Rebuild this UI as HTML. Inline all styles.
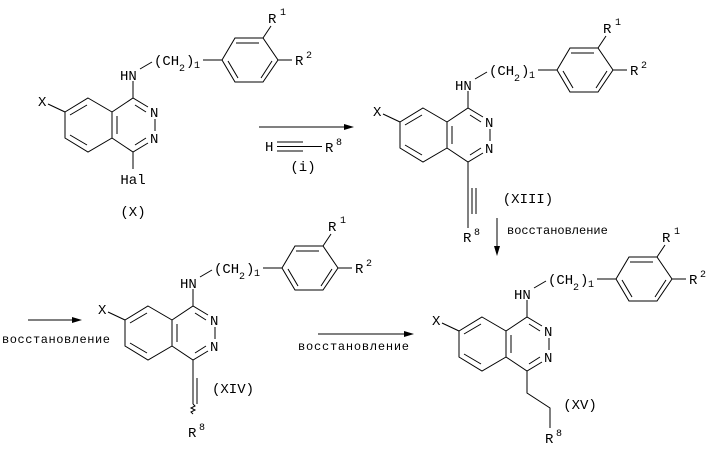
<!DOCTYPE html>
<html><head><meta charset="utf-8"><style>
html,body{margin:0;padding:0;background:#fff;}
svg{display:block;}
text{font-family:"Liberation Mono",monospace;font-size:14px;fill:#000;}
.s{font-size:10px;}
.r{font-size:12px;}
</style></head><body>
<svg width="709" height="451" viewBox="0 0 709 451" xmlns="http://www.w3.org/2000/svg">
<g stroke="#000" stroke-width="1" fill="none">
<!-- arrows -->
<line x1="259" y1="127" x2="348" y2="127"/>
<line x1="277" y1="142" x2="303" y2="142"/><line x1="277" y1="146.5" x2="303" y2="146.5"/><line x1="277" y1="151" x2="303" y2="151"/>
<line x1="303" y1="146.5" x2="322" y2="146.5"/>
<line x1="497" y1="218" x2="497" y2="250"/>
<line x1="28" y1="320" x2="76" y2="320"/>
<line x1="318" y1="334" x2="408" y2="334"/>
</g>
<g fill="#000">
<polygon points="354,127 344,124 344,130"/>
<polygon points="497,256 494,246 500,246"/>
<polygon points="82,320 72,317 72,323"/>
<polygon points="414,334 404,331 404,337"/>
</g>
<text x="265" y="151">H</text><text x="325" y="152">R</text><text class="s" x="336" y="145">8</text>
<text x="303" y="171" text-anchor="middle">(i)</text>
<text class="r" x="507" y="234">восстановление</text>
<text class="r" x="2" y="343" textLength="108">восстановление</text>
<text class="r" x="298" y="350" textLength="111">восстановление</text>
<text x="133" y="216" text-anchor="middle">(X)</text>
<text x="528" y="203" text-anchor="middle">(XIII)</text>
<text x="233" y="393" text-anchor="middle">(XIV)</text>
<text x="580" y="409" text-anchor="middle">(XV)</text>

<!-- molecule X -->
<g transform="translate(0,0)">
<g stroke="#000" stroke-width="1" fill="none">
<polygon points="88,98 112,112 112,138 88,152 65,138 65,112"/>
<line x1="70" y1="115" x2="87" y2="105"/><line x1="70" y1="135" x2="87" y2="145"/>
<polyline points="112,112 133,98 148,107"/><polyline points="148,143 133,152 112,138"/>
<line x1="135" y1="105" x2="146" y2="112"/><line x1="135" y1="145" x2="146" y2="138"/>
<line x1="117" y1="116" x2="117" y2="134"/>
<line x1="155" y1="119" x2="155" y2="131"/>
<line x1="48" y1="104" x2="65" y2="112"/>
<line x1="133" y1="98" x2="133" y2="81"/>
<line x1="140" y1="69" x2="152" y2="62"/>
<line x1="203" y1="60" x2="222" y2="60"/>
<polygon points="222,60 235,38 263,38 278,60 263,82 235,82"/>
<line x1="236" y1="43" x2="259" y2="43"/><line x1="272" y1="61" x2="261" y2="78"/><line x1="228" y1="61" x2="238" y2="78"/>
<line x1="263" y1="38" x2="271" y2="26"/>
<line x1="278" y1="60" x2="292" y2="60"/>
<line x1="133" y1="152" x2="133" y2="169"/>
</g>
<text x="38" y="106">X</text>
<text x="150" y="117">N</text><text x="150" y="143">N</text>
<text x="120" y="80">HN</text>
<text x="154" y="65">(CH</text><text class="s" x="179" y="71">2</text><text x="186" y="65">)</text><text class="s" x="194" y="68">1</text>
<text x="268" y="23">R</text><text class="s" x="280" y="15">1</text>
<text x="295" y="65">R</text><text class="s" x="306" y="58">2</text>
<text x="133" y="184" text-anchor="middle">Hal</text>
</g>

<!-- molecule XIII -->
<g transform="translate(335,10)">
<g stroke="#000" stroke-width="1" fill="none">
<polygon points="88,98 112,112 112,138 88,152 65,138 65,112"/>
<line x1="70" y1="115" x2="87" y2="105"/><line x1="70" y1="135" x2="87" y2="145"/>
<polyline points="112,112 133,98 148,107"/><polyline points="148,143 133,152 112,138"/>
<line x1="135" y1="105" x2="146" y2="112"/><line x1="135" y1="145" x2="146" y2="138"/>
<line x1="117" y1="116" x2="117" y2="134"/>
<line x1="155" y1="119" x2="155" y2="131"/>
<line x1="48" y1="104" x2="65" y2="112"/>
<line x1="133" y1="98" x2="133" y2="81"/>
<line x1="140" y1="69" x2="152" y2="62"/>
<line x1="203" y1="60" x2="222" y2="60"/>
<polygon points="222,60 235,38 263,38 278,60 263,82 235,82"/>
<line x1="236" y1="43" x2="259" y2="43"/><line x1="272" y1="61" x2="261" y2="78"/><line x1="228" y1="61" x2="238" y2="78"/>
<line x1="263" y1="38" x2="271" y2="26"/>
<line x1="278" y1="60" x2="292" y2="60"/>
<line x1="133" y1="152" x2="133" y2="218"/>
<line x1="137" y1="178" x2="137" y2="204"/><line x1="141" y1="178" x2="141" y2="204"/>
</g>
<text x="38" y="106">X</text>
<text x="150" y="117">N</text><text x="150" y="143">N</text>
<text x="120" y="80">HN</text>
<text x="154" y="65">(CH</text><text class="s" x="179" y="71">2</text><text x="186" y="65">)</text><text class="s" x="194" y="68">1</text>
<text x="268" y="23">R</text><text class="s" x="280" y="15">1</text>
<text x="295" y="65">R</text><text class="s" x="306" y="58">2</text>
<text x="128" y="232">R</text><text class="s" x="139" y="225">8</text>
</g>

<!-- molecule XIV -->
<g transform="translate(60,208)">
<g stroke="#000" stroke-width="1" fill="none">
<polygon points="88,98 112,112 112,138 88,152 65,138 65,112"/>
<line x1="70" y1="115" x2="87" y2="105"/><line x1="70" y1="135" x2="87" y2="145"/>
<polyline points="112,112 133,98 148,107"/><polyline points="148,143 133,152 112,138"/>
<line x1="135" y1="105" x2="146" y2="112"/><line x1="135" y1="145" x2="146" y2="138"/>
<line x1="117" y1="116" x2="117" y2="134"/>
<line x1="155" y1="119" x2="155" y2="131"/>
<line x1="48" y1="104" x2="65" y2="112"/>
<line x1="133" y1="98" x2="133" y2="81"/>
<line x1="140" y1="69" x2="152" y2="62"/>
<line x1="203" y1="60" x2="222" y2="60"/>
<polygon points="222,60 235,38 263,38 278,60 263,82 235,82"/>
<line x1="236" y1="43" x2="259" y2="43"/><line x1="272" y1="61" x2="261" y2="78"/><line x1="228" y1="61" x2="238" y2="78"/>
<line x1="263" y1="38" x2="271" y2="26"/>
<line x1="278" y1="60" x2="292" y2="60"/>
<line x1="133" y1="152" x2="133" y2="196"/>
<line x1="137" y1="170" x2="137" y2="196"/>
<path d="M133,196 l2,2 l-4,2 l4,2 l-4,2 l2,2"/>
</g>
<text x="38" y="106">X</text>
<text x="150" y="117">N</text><text x="150" y="143">N</text>
<text x="120" y="80">HN</text>
<text x="154" y="65">(CH</text><text class="s" x="179" y="71">2</text><text x="186" y="65">)</text><text class="s" x="194" y="68">1</text>
<text x="268" y="23">R</text><text class="s" x="280" y="15">1</text>
<text x="295" y="65">R</text><text class="s" x="306" y="58">2</text>
<text x="128" y="229">R</text><text class="s" x="139" y="222">8</text>
</g>

<!-- molecule XV -->
<g transform="translate(394,219)">
<g stroke="#000" stroke-width="1" fill="none">
<polygon points="88,98 112,112 112,138 88,152 65,138 65,112"/>
<line x1="70" y1="115" x2="87" y2="105"/><line x1="70" y1="135" x2="87" y2="145"/>
<polyline points="112,112 133,98 148,107"/><polyline points="148,143 133,152 112,138"/>
<line x1="135" y1="105" x2="146" y2="112"/><line x1="135" y1="145" x2="146" y2="138"/>
<line x1="117" y1="116" x2="117" y2="134"/>
<line x1="155" y1="119" x2="155" y2="131"/>
<line x1="48" y1="104" x2="65" y2="112"/>
<line x1="133" y1="98" x2="133" y2="81"/>
<line x1="140" y1="69" x2="152" y2="62"/>
<line x1="203" y1="60" x2="222" y2="60"/>
<polygon points="222,60 235,38 263,38 278,60 263,82 235,82"/>
<line x1="236" y1="43" x2="259" y2="43"/><line x1="272" y1="61" x2="261" y2="78"/><line x1="228" y1="61" x2="238" y2="78"/>
<line x1="263" y1="38" x2="271" y2="26"/>
<line x1="278" y1="60" x2="292" y2="60"/>
<polyline points="133,152 133,174 156,189 156,209"/>
</g>
<text x="38" y="106">X</text>
<text x="150" y="117">N</text><text x="150" y="143">N</text>
<text x="120" y="80">HN</text>
<text x="154" y="65">(CH</text><text class="s" x="179" y="71">2</text><text x="186" y="65">)</text><text class="s" x="194" y="68">1</text>
<text x="268" y="23">R</text><text class="s" x="280" y="15">1</text>
<text x="295" y="65">R</text><text class="s" x="306" y="58">2</text>
<text x="151" y="224">R</text><text class="s" x="162" y="217">8</text>
</g>
</svg>
</body></html>
